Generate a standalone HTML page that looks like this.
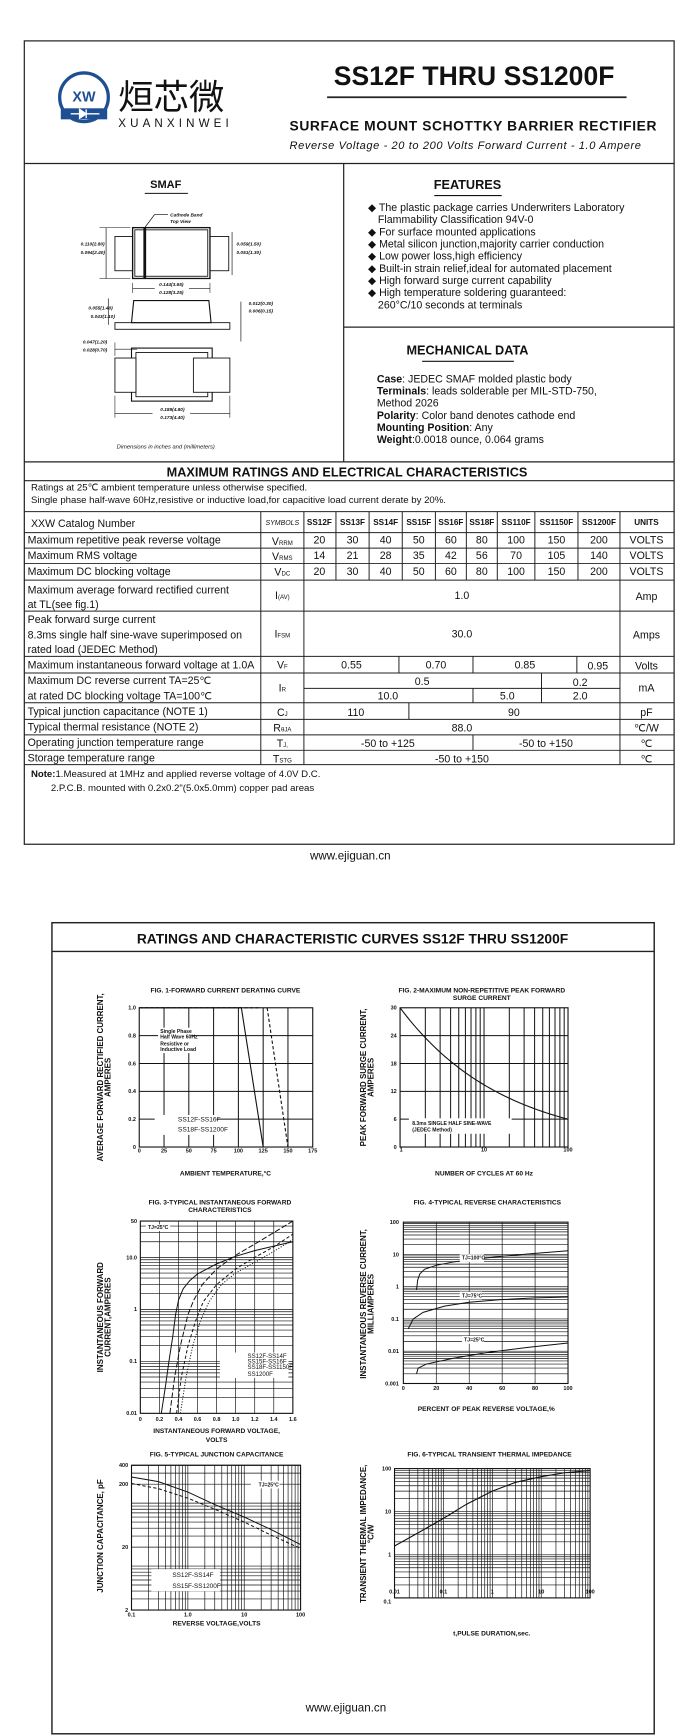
<!DOCTYPE html>
<html><head><meta charset="utf-8"><style>
html,body{margin:0;padding:0;background:#fff;}
svg{display:block;}
text{font-family:"Liberation Sans",Arial,sans-serif;fill:#111;}
.b{font-weight:bold;}
.t{font-size:9.6px;}
.tk{font-size:5px;font-weight:bold;}
.ft{font-size:6px;font-weight:bold;}
.al{font-size:7.2px;font-weight:bold;}
</style></head><body>
<svg id="s" width="694" height="1736" viewBox="0 0 628 1571" preserveAspectRatio="none" xmlns="http://www.w3.org/2000/svg">
<rect x="0" y="0" width="628" height="1571" fill="#fff"/>
<g id="g" stroke="#111" fill="none"></g>
<!-- page 1 frame -->
<g stroke="#222" fill="none" stroke-width="1.1">
<rect x="22" y="37" width="588" height="727"/>
<line x1="22" y1="148" x2="610" y2="148"/>
<line x1="311" y1="148" x2="311" y2="418"/>
<line x1="311" y1="296" x2="610" y2="296"/>
<line x1="22" y1="418" x2="610" y2="418"/>
<line x1="22" y1="435" x2="610" y2="435"/>
<line x1="296" y1="88" x2="567" y2="88" stroke-width="1.6"/>
</g>
<!-- logo -->
<circle cx="76" cy="88" r="22" fill="#fff" stroke="#1f4f93" stroke-width="3"/>
<text x="76" y="92" text-anchor="middle" style="font-size:13px;font-weight:bold;fill:#1f4f93">XW</text>
<rect x="55" y="98" width="42" height="10" fill="#1f4f93"/>
<path d="M64 103h26M72 99v8l6-4z M78 99v8" stroke="#fff" stroke-width="1.2" fill="#fff"/>
<text x="107" y="99" style="font-size:32px;font-family:'Liberation Sans','Noto Sans CJK SC',sans-serif">烜芯微</text>
<text x="107" y="115" textLength="100" style="font-size:10.5px">XUANXINWEI</text>
<text x="302" y="77" class="b" textLength="254" style="font-size:24px">SS12F THRU SS1200F</text>
<text x="262" y="118" class="b" textLength="332" style="font-size:12.5px">SURFACE MOUNT SCHOTTKY BARRIER RECTIFIER</text>
<text x="262" y="135" textLength="318" style="font-size:10px;font-style:italic">Reverse Voltage - 20 to 200 Volts    Forward Current - 1.0 Ampere</text>
<!-- SMAF -->
<text x="150" y="170" class="b" text-anchor="middle" style="font-size:10px">SMAF</text>
<line x1="131" y1="175" x2="170" y2="175" stroke="#111"/>
<g stroke="#111" fill="none" stroke-width="0.8">
<rect x="104" y="214" width="16" height="31"/><rect x="190" y="214" width="17" height="31"/>
<rect x="120" y="206" width="70" height="46" stroke-width="1.2"/><rect x="122" y="208" width="66" height="42"/>
<line x1="131" y1="206" x2="131" y2="252" stroke-width="2.5"/>
<line x1="131" y1="206" x2="140" y2="194" stroke-width="0.6"/><line x1="140" y1="194" x2="152" y2="194" stroke-width="0.6"/>
<line x1="96" y1="206" x2="96" y2="252" stroke-width="0.6"/><line x1="90" y1="206" x2="118" y2="206" stroke-width="0.5"/><line x1="90" y1="252" x2="118" y2="252" stroke-width="0.5"/>
<line x1="210" y1="210" x2="210" y2="249" stroke-width="0.6"/>
<line x1="120" y1="256" x2="120" y2="265" stroke-width="0.5"/><line x1="190" y1="256" x2="190" y2="265" stroke-width="0.5"/>
<line x1="120" y1="261" x2="140" y2="261" stroke-width="0.6"/><line x1="171" y1="261" x2="190" y2="261" stroke-width="0.6"/>
<path d="M121 272L189 272L191 292L119 292Z" stroke-width="1"/>
<rect x="104" y="292" width="104" height="6"/>
<line x1="98" y1="270" x2="98" y2="294" stroke-width="0.6"/>
<line x1="218" y1="273" x2="218" y2="309" stroke-width="0.6"/>
<rect x="119" y="315" width="73" height="48" stroke-width="1"/><rect x="123" y="319" width="65" height="40"/>
<rect x="104" y="324" width="19" height="31" fill="#fff"/><rect x="175" y="324" width="33" height="31" fill="#fff"/>
<line x1="104" y1="310" x2="104" y2="322" stroke-width="0.5"/><line x1="104" y1="316" x2="124" y2="316" stroke-width="0.6"/>
<line x1="104" y1="358" x2="104" y2="378" stroke-width="0.5"/><line x1="208" y1="358" x2="208" y2="378" stroke-width="0.5"/>
<line x1="104" y1="374" x2="138" y2="374" stroke-width="0.6"/><line x1="172" y1="374" x2="208" y2="374" stroke-width="0.6"/>
</g>
<g style="font-size:4.3px;font-style:italic;font-weight:bold">
<text x="154" y="196">Cathode Band</text><text x="154" y="202">Top View</text>
<text x="73" y="222">0.110(2.80)</text><text x="73" y="230">0.094(2.40)</text>
<text x="214" y="222">0.059(1.50)</text><text x="214" y="230">0.051(1.30)</text>
<text x="155" y="259" text-anchor="middle">0.144(3.65)</text><text x="155" y="266" text-anchor="middle">0.128(3.25)</text>
<text x="80" y="280">0.055(1.40)</text><text x="82" y="288">0.043(1.10)</text>
<text x="225" y="276">0.012(0.30)</text><text x="225" y="283">0.006(0.15)</text>
<text x="75" y="311">0.047(1.20)</text><text x="75" y="318">0.028(0.70)</text>
<text x="156" y="372" text-anchor="middle">0.189(4.80)</text><text x="156" y="379" text-anchor="middle">0.173(4.40)</text>
</g>
<text x="150" y="406" text-anchor="middle" style="font-size:5.2px;font-style:italic">Dimensions in inches and (millimeters)</text>
<!-- features -->
<text x="423" y="171" class="b" text-anchor="middle" style="font-size:11.5px">FEATURES</text>
<line x1="393" y1="177" x2="454" y2="177" stroke="#111"/>
<g style="font-size:9.6px">
<text x="333" y="191">◆ The plastic package carries Underwriters Laboratory</text>
<text x="342" y="202">Flammability Classification 94V-0</text>
<text x="333" y="213">◆ For surface mounted applications</text>
<text x="333" y="224">◆ Metal silicon junction,majority carrier conduction</text>
<text x="333" y="235">◆ Low power loss,high efficiency</text>
<text x="333" y="246">◆ Built-in strain relief,ideal for automated placement</text>
<text x="333" y="257">◆ High forward surge current capability</text>
<text x="333" y="268">◆ High temperature soldering guaranteed:</text>
<text x="342" y="279">260°C/10 seconds at terminals</text>
</g>
<text x="423" y="321" class="b" text-anchor="middle" style="font-size:11.5px">MECHANICAL DATA</text>
<line x1="382" y1="327" x2="465" y2="327" stroke="#111"/>
<g style="font-size:9.6px">
<text x="341" y="346"><tspan class="b">Case</tspan>: JEDEC SMAF molded plastic body</text>
<text x="341" y="357"><tspan class="b">Terminals</tspan>: leads solderable per MIL-STD-750,</text>
<text x="341" y="368">Method 2026</text>
<text x="341" y="379"><tspan class="b">Polarity</tspan>: Color band denotes cathode end</text>
<text x="341" y="390"><tspan class="b">Mounting Position</tspan>: Any</text>
<text x="341" y="401"><tspan class="b">Weight</tspan>:0.0018 ounce, 0.064 grams</text>
</g>
<!-- ratings -->
<text x="314" y="431" class="b" text-anchor="middle" style="font-size:11.5px">MAXIMUM RATINGS AND ELECTRICAL CHARACTERISTICS</text>
<text x="28" y="444" style="font-size:8.7px">Ratings at 25℃ ambient temperature unless otherwise specified.</text>
<text x="28" y="455" style="font-size:8.7px">Single phase half-wave 60Hz,resistive or inductive load,for capacitive load current derate by 20%.</text>
<g stroke="#222" stroke-width="0.9">
<line x1="22" y1="463" x2="610" y2="463"/><line x1="22" y1="482" x2="610" y2="482"/><line x1="22" y1="496" x2="610" y2="496"/>
<line x1="22" y1="510" x2="610" y2="510"/><line x1="22" y1="525" x2="610" y2="525"/><line x1="22" y1="553" x2="610" y2="553"/>
<line x1="22" y1="594" x2="610" y2="594"/><line x1="22" y1="609" x2="610" y2="609"/><line x1="22" y1="636" x2="610" y2="636"/>
<line x1="22" y1="651" x2="610" y2="651"/><line x1="22" y1="665" x2="610" y2="665"/><line x1="22" y1="679" x2="610" y2="679"/>
<line x1="22" y1="692" x2="610" y2="692"/>
<line x1="236" y1="463" x2="236" y2="692"/><line x1="275" y1="463" x2="275" y2="692"/><line x1="561" y1="463" x2="561" y2="692"/>
<line x1="304" y1="463" x2="304" y2="525"/><line x1="334" y1="463" x2="334" y2="525"/><line x1="364" y1="463" x2="364" y2="525"/>
<line x1="394" y1="463" x2="394" y2="525"/><line x1="422" y1="463" x2="422" y2="525"/><line x1="450" y1="463" x2="450" y2="525"/>
<line x1="484" y1="463" x2="484" y2="525"/><line x1="523" y1="463" x2="523" y2="525"/>
<line x1="361" y1="594" x2="361" y2="609"/><line x1="428" y1="594" x2="428" y2="609"/><line x1="522" y1="594" x2="522" y2="609"/>
<line x1="275" y1="623" x2="561" y2="623"/><line x1="490" y1="609" x2="490" y2="636"/><line x1="428" y1="623" x2="428" y2="636"/>
<line x1="370" y1="636" x2="370" y2="651"/><line x1="428" y1="665" x2="428" y2="679"/>
</g>
<g class="t">
<text x="28" y="477">XXW Catalog Number</text>
<text x="255.5" y="475" text-anchor="middle" style="font-size:6.3px;font-style:italic">SYMBOLS</text>
<g class="b" style="font-size:7.4px" text-anchor="middle">
<text x="289" y="475">SS12F</text><text x="319" y="475">SS13F</text><text x="349" y="475">SS14F</text><text x="379" y="475">SS15F</text><text x="408" y="475">SS16F</text><text x="436" y="475">SS18F</text><text x="467" y="475">SS110F</text><text x="503.5" y="475">SS1150F</text><text x="542" y="475">SS1200F</text><text x="585" y="475">UNITS</text>
</g>
<text x="25" y="492">Maximum repetitive peak reverse voltage</text>
<text x="25" y="506">Maximum RMS voltage</text>
<text x="25" y="520.5">Maximum DC blocking voltage</text>
<text x="25" y="537">Maximum average forward rectified current</text>
<text x="25" y="550">at TL(see fig.1)</text>
<text x="25" y="564">Peak forward surge current</text>
<text x="25" y="578">8.3ms single half sine-wave superimposed on</text>
<text x="25" y="591">rated load (JEDEC Method)</text>
<text x="25" y="605">Maximum instantaneous forward voltage at 1.0A</text>
<text x="25" y="619">Maximum DC reverse current        TA=25℃</text>
<text x="25" y="633">at rated DC blocking voltage        TA=100℃</text>
<text x="25" y="647">Typical junction capacitance (NOTE 1)</text>
<text x="25" y="661">Typical thermal resistance (NOTE 2)</text>
<text x="25" y="675">Operating junction temperature range</text>
<text x="25" y="689">Storage temperature range</text>
<g text-anchor="middle">
<text x="255.5" y="493">V<tspan style="font-size:5.5px">RRM</tspan></text>
<text x="255.5" y="507">V<tspan style="font-size:5.5px">RMS</tspan></text>
<text x="255.5" y="521">V<tspan style="font-size:5.5px">DC</tspan></text>
<text x="255.5" y="542">I<tspan style="font-size:5.5px">(AV)</tspan></text>
<text x="255.5" y="577">I<tspan style="font-size:5.5px">FSM</tspan></text>
<text x="255.5" y="605">V<tspan style="font-size:5.5px">F</tspan></text>
<text x="255.5" y="626">I<tspan style="font-size:5.5px">R</tspan></text>
<text x="255.5" y="648">C<tspan style="font-size:5.5px">J</tspan></text>
<text x="255.5" y="662">R<tspan style="font-size:5.5px">θJA</tspan></text>
<text x="255.5" y="676">T<tspan style="font-size:5.5px">J,</tspan></text>
<text x="255.5" y="690">T<tspan style="font-size:5.5px">STG</tspan></text>
<text x="289" y="492">20</text><text x="319" y="492">30</text><text x="349" y="492">40</text><text x="379" y="492">50</text><text x="408" y="492">60</text><text x="436" y="492">80</text><text x="467" y="492">100</text><text x="503.5" y="492">150</text><text x="542" y="492">200</text><text x="585" y="492">VOLTS</text>
<text x="289" y="506">14</text><text x="319" y="506">21</text><text x="349" y="506">28</text><text x="379" y="506">35</text><text x="408" y="506">42</text><text x="436" y="506">56</text><text x="467" y="506">70</text><text x="503.5" y="506">105</text><text x="542" y="506">140</text><text x="585" y="506">VOLTS</text>
<text x="289" y="520.5">20</text><text x="319" y="520.5">30</text><text x="349" y="520.5">40</text><text x="379" y="520.5">50</text><text x="408" y="520.5">60</text><text x="436" y="520.5">80</text><text x="467" y="520.5">100</text><text x="503.5" y="520.5">150</text><text x="542" y="520.5">200</text><text x="585" y="520.5">VOLTS</text>
<text x="418" y="542">1.0</text><text x="585" y="543">Amp</text>
<text x="418" y="577">30.0</text><text x="585" y="578">Amps</text>
<text x="318" y="605">0.55</text><text x="394.5" y="605">0.70</text><text x="475" y="605">0.85</text><text x="541" y="606">0.95</text><text x="585" y="606">Volts</text>
<text x="382" y="620">0.5</text><text x="525" y="621">0.2</text><text x="585" y="626">mA</text>
<text x="351" y="633">10.0</text><text x="459" y="633">5.0</text><text x="525" y="633">2.0</text>
<text x="322" y="648">110</text><text x="465" y="648">90</text><text x="585" y="648">pF</text>
<text x="418" y="662">88.0</text><text x="585" y="662">℃/W</text>
<text x="351" y="676">-50 to +125</text><text x="494" y="676">-50 to +150</text><text x="585" y="676">℃</text>
<text x="418" y="690">-50 to +150</text><text x="585" y="690">℃</text>
</g>
<text x="28" y="703" style="font-size:8.7px"><tspan class="b">Note:</tspan>1.Measured at 1MHz and applied reverse voltage of 4.0V D.C.</text>
<text x="46" y="716" style="font-size:8.7px">2.P.C.B. mounted with 0.2x0.2"(5.0x5.0mm) copper pad areas</text>
</g>
<text x="317" y="778" text-anchor="middle" style="font-size:10.5px">www.ejiguan.cn</text>
<!-- page 2 -->
<g stroke="#222" fill="none" stroke-width="1.3">
<rect x="47" y="835" width="545" height="734"/>
<line x1="47" y1="861" x2="592" y2="861"/>
</g>
<text x="319" y="854" class="b" text-anchor="middle" style="font-size:12.5px">RATINGS AND CHARACTERISTIC CURVES SS12F THRU SS1200F</text>
<text x="313" y="1549" text-anchor="middle" style="font-size:10.5px">www.ejiguan.cn</text>
<!-- chart titles & labels -->
<text x="204" y="898" class="ft" text-anchor="middle">FIG. 1-FORWARD CURRENT DERATING CURVE</text>
<text x="436" y="898" class="ft" text-anchor="middle">FIG. 2-MAXIMUM NON-REPETITIVE PEAK FORWARD</text>
<text x="436" y="905" class="ft" text-anchor="middle">SURGE CURRENT</text>
<text x="204" y="1064" class="ft" text-anchor="middle">AMBIENT TEMPERATURE,°C</text>
<text x="438" y="1064" class="ft" text-anchor="middle">NUMBER OF CYCLES AT 60 Hz</text>
<text x="199" y="1090" class="ft" text-anchor="middle">FIG. 3-TYPICAL INSTANTANEOUS FORWARD</text>
<text x="199" y="1097" class="ft" text-anchor="middle">CHARACTERISTICS</text>
<text x="441" y="1090" class="ft" text-anchor="middle">FIG. 4-TYPICAL REVERSE CHARACTERISTICS</text>
<text x="196" y="1297" class="ft" text-anchor="middle">INSTANTANEOUS FORWARD VOLTAGE,</text>
<text x="196" y="1305" class="ft" text-anchor="middle">VOLTS</text>
<text x="440" y="1277" class="ft" text-anchor="middle">PERCENT OF PEAK REVERSE VOLTAGE,%</text>
<text x="196" y="1318" class="ft" text-anchor="middle">FIG. 5-TYPICAL JUNCTION CAPACITANCE</text>
<text x="443" y="1318" class="ft" text-anchor="middle">FIG. 6-TYPICAL TRANSIENT THERMAL IMPEDANCE</text>
<text x="196" y="1471" class="ft" text-anchor="middle">REVERSE VOLTAGE,VOLTS</text>
<text x="445" y="1480" class="ft" text-anchor="middle">t,PULSE DURATION,sec.</text>
<g class="al" text-anchor="middle">
<text transform="translate(93,975) rotate(-90)">AVERAGE FORWARD RECTIFIED CURRENT,</text>
<text transform="translate(100,975) rotate(-90)">AMPERES</text>
<text transform="translate(331,975) rotate(-90)">PEAK FORWARD SURGE CURRENT,</text>
<text transform="translate(338,975) rotate(-90)">AMPERES</text>
<text transform="translate(93,1192) rotate(-90)">INSTANTANEOUS FORWARD</text>
<text transform="translate(100,1192) rotate(-90)">CURRENT,AMPERES</text>
<text transform="translate(331,1180) rotate(-90)">INSTANTANEOUS REVERSE CURRENT,</text>
<text transform="translate(338,1180) rotate(-90)">MILLIAMPERES</text>
<text transform="translate(93,1390) rotate(-90)">JUNCTION CAPACITANCE, pF</text>
<text transform="translate(331,1388) rotate(-90)">TRANSIENT THERMAL IMPEDANCE,</text>
<text transform="translate(338,1388) rotate(-90)">°C/W</text>
</g>
<g id="ticks" class="tk"></g>
<g id="lbl" style="font-size:4.6px;font-weight:bold">
<g id="lblbg"></g>
<text x="145" y="935">Single Phase</text><text x="145" y="940">Half Wave 60Hz</text><text x="145" y="946">Resistive or</text><text x="145" y="951">Inductive Load</text>
<text x="161" y="1015" style="font-size:6px;font-weight:normal">SS12F-SS16F</text>
<text x="161" y="1024" style="font-size:6px;font-weight:normal">SS18F-SS1200F</text>
<text x="373" y="1018">8.3ms SINGLE HALF SINE-WAVE</text><text x="373" y="1024">(JEDEC Method)</text>
<text x="134" y="1112">TJ=25°C</text>
<text x="224" y="1229" style="font-size:5.5px;font-weight:normal">SS12F-SS14F</text>
<text x="224" y="1234" style="font-size:5.5px;font-weight:normal">SS15F-SS16F</text>
<text x="224" y="1239" style="font-size:5.5px;font-weight:normal">SS18F-SS1150F</text>
<text x="224" y="1245" style="font-size:5.5px;font-weight:normal">SS1200F</text>
<text x="418" y="1140">TJ=100°C</text><text x="418" y="1174">TJ=75°C</text><text x="420" y="1214">TJ=25°C</text>
<text x="234" y="1345">TJ=25°C</text>
<text x="156" y="1427" style="font-size:5.8px;font-weight:normal">SS12F-SS14F</text>
<text x="156" y="1437" style="font-size:5.8px;font-weight:normal">SS15F-SS1200F</text>
</g>
</svg>
<script>
(function(){
var NS="http://www.w3.org/2000/svg",g=document.getElementById("g"),tk=document.getElementById("ticks"),bg=document.getElementById("lblbg");
function el(p,tag,a){var e=document.createElementNS(NS,tag);for(var k in a)e.setAttribute(k,a[k]);p.appendChild(e);return e;}
function L(x1,y1,x2,y2,w){el(g,"line",{x1:x1,y1:y1,x2:x2,y2:y2,"stroke-width":w||0.5});}
function T(x,y,s,anc){var t=el(tk,"text",{x:x,y:y,"text-anchor":anc||"end"});t.textContent=s;}
function P(o){var lg=Math.log10;
 o.mx=function(v){var a=o.xl?(lg(v)-lg(o.a))/(lg(o.b)-lg(o.a)):(v-o.a)/(o.b-o.a);return o.x0+a*(o.x1-o.x0);};
 o.my=function(v){var a=o.yl?(lg(v)-lg(o.c))/(lg(o.d)-lg(o.c)):(v-o.c)/(o.d-o.c);return o.y1-a*(o.y1-o.y0);};
 return o;}
function logs(a,b){var r=[];for(var d=Math.pow(10,Math.floor(Math.log10(a)));d<b;d*=10)for(var k=1;k<10;k++){var v=d*k;if(v>=a*0.999&&v<=b*1.001)r.push(v);}return r;}
function grid(o,xs,ys,w){xs.forEach(function(v){L(o.mx(v),o.y0,o.mx(v),o.y1,w);});ys.forEach(function(v){L(o.x0,o.my(v),o.x1,o.my(v),w);});
 el(g,"rect",{x:o.x0,y:o.y0,width:o.x1-o.x0,height:o.y1-o.y0,"stroke-width":1});}
function curve(o,pts,w,dash){var d=pts.map(function(p,i){return (i?"L":"M")+o.mx(p[0]).toFixed(2)+" "+o.my(p[1]).toFixed(2);}).join("");var a={d:d,"stroke-width":w||0.9};if(dash)a["stroke-dasharray"]=dash;el(g,"path",a);}
function box(x,y,w,h){el(bg,"rect",{x:x,y:y,width:w,height:h,fill:"#fff"});}
var p1=P({x0:126,x1:283,y0:912,y1:1038,a:0,b:175,c:0,d:1});
grid(p1,[25,50,75,100,125,150],[0.2,0.4,0.6,0.8],0.9);
[0,25,50,75,100,125,150,175].forEach(function(v){T(p1.mx(v),1043,v,"middle");});
["0","0.2","0.4","0.6","0.8","1.0"].forEach(function(s,i){T(123,p1.my(i*0.2)+1.7,s);});
box(143,930,30,23);box(140,1009,56,18);
L(143,1013,159,1013,0.8);el(g,"path",{d:"M143 1022H159","stroke-width":0.8,"stroke-dasharray":"2 2"});
curve(p1,[[0,1],[103,1],[125,0]],1);
curve(p1,[[0,1],[123,1]],1,"3 2");curve(p1,[[129,1],[150,0]],1,"3 2");
var p2=P({x0:362,x1:514,y0:912,y1:1038,a:1,b:100,xl:1,c:0,d:30});
grid(p2,logs(1,100),[6,12,18,24],0.9);
[0,6,12,18,24,30].forEach(function(v){T(359,p2.my(v)+1.7,v);});
T(363,1042,"1","middle");T(p2.mx(10),1042,"10","middle");T(p2.mx(100),1042,"100","middle");
box(370,1012,93,14);
var c2=[];for(var n=1;n<=100;n*=1.1)c2.push([n,30*Math.pow(n,-0.35)]);c2.push([100,30*Math.pow(100,-0.35)]);curve(p2,c2,1);
var p3=P({x0:127,x1:265,y0:1105,y1:1279,a:0,b:1.6,c:0.01,d:50,yl:1});
grid(p3,[0.2,0.4,0.6,0.8,1,1.2,1.4],logs(0.01,50).concat([50]),0.6);
[0,0.2,0.4,0.6,0.8,1.0,1.2,1.4,1.6].forEach(function(v){T(p3.mx(v),1286,v===0?"0":v.toFixed(1),"middle");});
[[0.01,"0.01"],[0.1,"0.1"],[1,"1"],[10,"10.0"],[50,"50"]].forEach(function(a){T(124,p3.my(a[0])+1.7,a[1]);});
box(132,1108,22,6);box(199,1224,62,23);
L(201,1227,221,1227,0.8);
el(g,"path",{d:"M201 1232H221","stroke-width":0.8,"stroke-dasharray":"5 2"});
el(g,"path",{d:"M201 1237H221","stroke-width":0.8,"stroke-dasharray":"3 2"});
el(g,"path",{d:"M201 1243H221","stroke-width":0.8,"stroke-dasharray":"1 1.5"});
curve(p3,[[0.22,0.01],[0.26,0.03],[0.3,0.1],[0.34,0.3],[0.37,0.8],[0.4,1.5],[0.45,2.5],[0.52,3.6],[0.6,4.8],[0.8,7.5],[1.0,10.5],[1.2,13.5],[1.4,16.5],[1.6,20]],0.9);
curve(p3,[[0.31,0.01],[0.36,0.05],[0.42,0.2],[0.5,0.8],[0.56,1.5],[0.65,3],[0.8,6],[1.0,11],[1.2,18],[1.4,30],[1.6,50]],0.9,"5 2");
curve(p3,[[0.38,0.01],[0.43,0.05],[0.5,0.2],[0.58,0.6],[0.66,1.4],[0.8,3],[1.0,6],[1.2,10],[1.4,16],[1.6,28]],0.9,"3 2");
curve(p3,[[0.42,0.01],[0.48,0.05],[0.55,0.2],[0.63,0.6],[0.72,1.4],[0.85,3],[1.0,5],[1.2,8],[1.4,13],[1.6,22]],0.9,"1 1.5");
var p4=P({x0:365,x1:514,y0:1106,y1:1252,a:0,b:100,c:0.001,d:100,yl:1});
grid(p4,[20,40,60,80],logs(0.001,100),0.6);
[0,20,40,60,80,100].forEach(function(v){T(p4.mx(v),1258,v,"middle");});
[[0.001,"0.001"],[0.01,"0.01"],[0.1,"0.1"],[1,"1"],[10,"10"],[100,"100"]].forEach(function(a){T(361,p4.my(a[0])+1.7,a[1]);});
box(416,1135,22,7);box(416,1169,20,7);box(418,1209,20,7);
curve(p4,[[8,0.8],[8.7,1.6],[10,2.5],[13,3.5],[20,4.6],[30,5.8],[45,7.3],[60,8.8],[80,10.8],[100,13]],0.9);
curve(p4,[[3,0.05],[6,0.1],[12,0.16],[25,0.25],[40,0.33],[60,0.4],[80,0.45],[100,0.48]],0.9);
curve(p4,[[8,0.002],[9,0.003],[14,0.004],[30,0.006],[50,0.009],[75,0.013],[100,0.018]],0.9);
var p5=P({x0:119,x1:272,y0:1326,y1:1457,a:0.1,b:100,xl:1,c:2,d:400,yl:1});
grid(p5,logs(0.1,100),logs(2,400).concat([400]),0.6);
[[0.1,"0.1"],[1,"1.0"],[10,"10"],[100,"100"]].forEach(function(a){T(p5.mx(a[0]),1463,a[1],"middle");});
[[2,"2"],[20,"20"],[200,"200"],[400,"400"]].forEach(function(a){T(116,p5.my(a[0])+1.7,a[1]);});
box(227,1340,26,7);box(137,1420,62,20);
L(139,1425,152,1425,0.8);el(g,"path",{d:"M139 1435H152","stroke-width":0.8,"stroke-dasharray":"3 2"});
curve(p5,[[0.1,260],[0.3,220],[1,150],[3,95],[10,60],[30,38],[100,22]],0.9);
curve(p5,[[0.1,205],[0.3,170],[1,120],[3,80],[10,50],[30,31],[100,19]],0.9,"3 2");
var p6=P({x0:357,x1:534,y0:1329,y1:1446,a:0.01,b:100,xl:1,c:0.1,d:100,yl:1});
grid(p6,logs(0.01,100),logs(0.1,100),0.6);
[[0.01,"0.01"],[0.1,"0.1"],[1,"1"],[10,"10"],[100,"100"]].forEach(function(a){T(p6.mx(a[0]),1442,a[1],"middle");});
[[0.1,"0.1"],[1,"1"],[10,"10"],[100,"100"]].forEach(function(a){T(354,p6.my(a[0])+(a[0]==0.1?5:1.7),a[1]);});
curve(p6,[[0.01,1.6],[0.03,3.2],[0.1,7],[0.3,15],[1,30],[3,48],[10,65],[30,80],[100,90]],1);
})();
</script>
</body></html>
